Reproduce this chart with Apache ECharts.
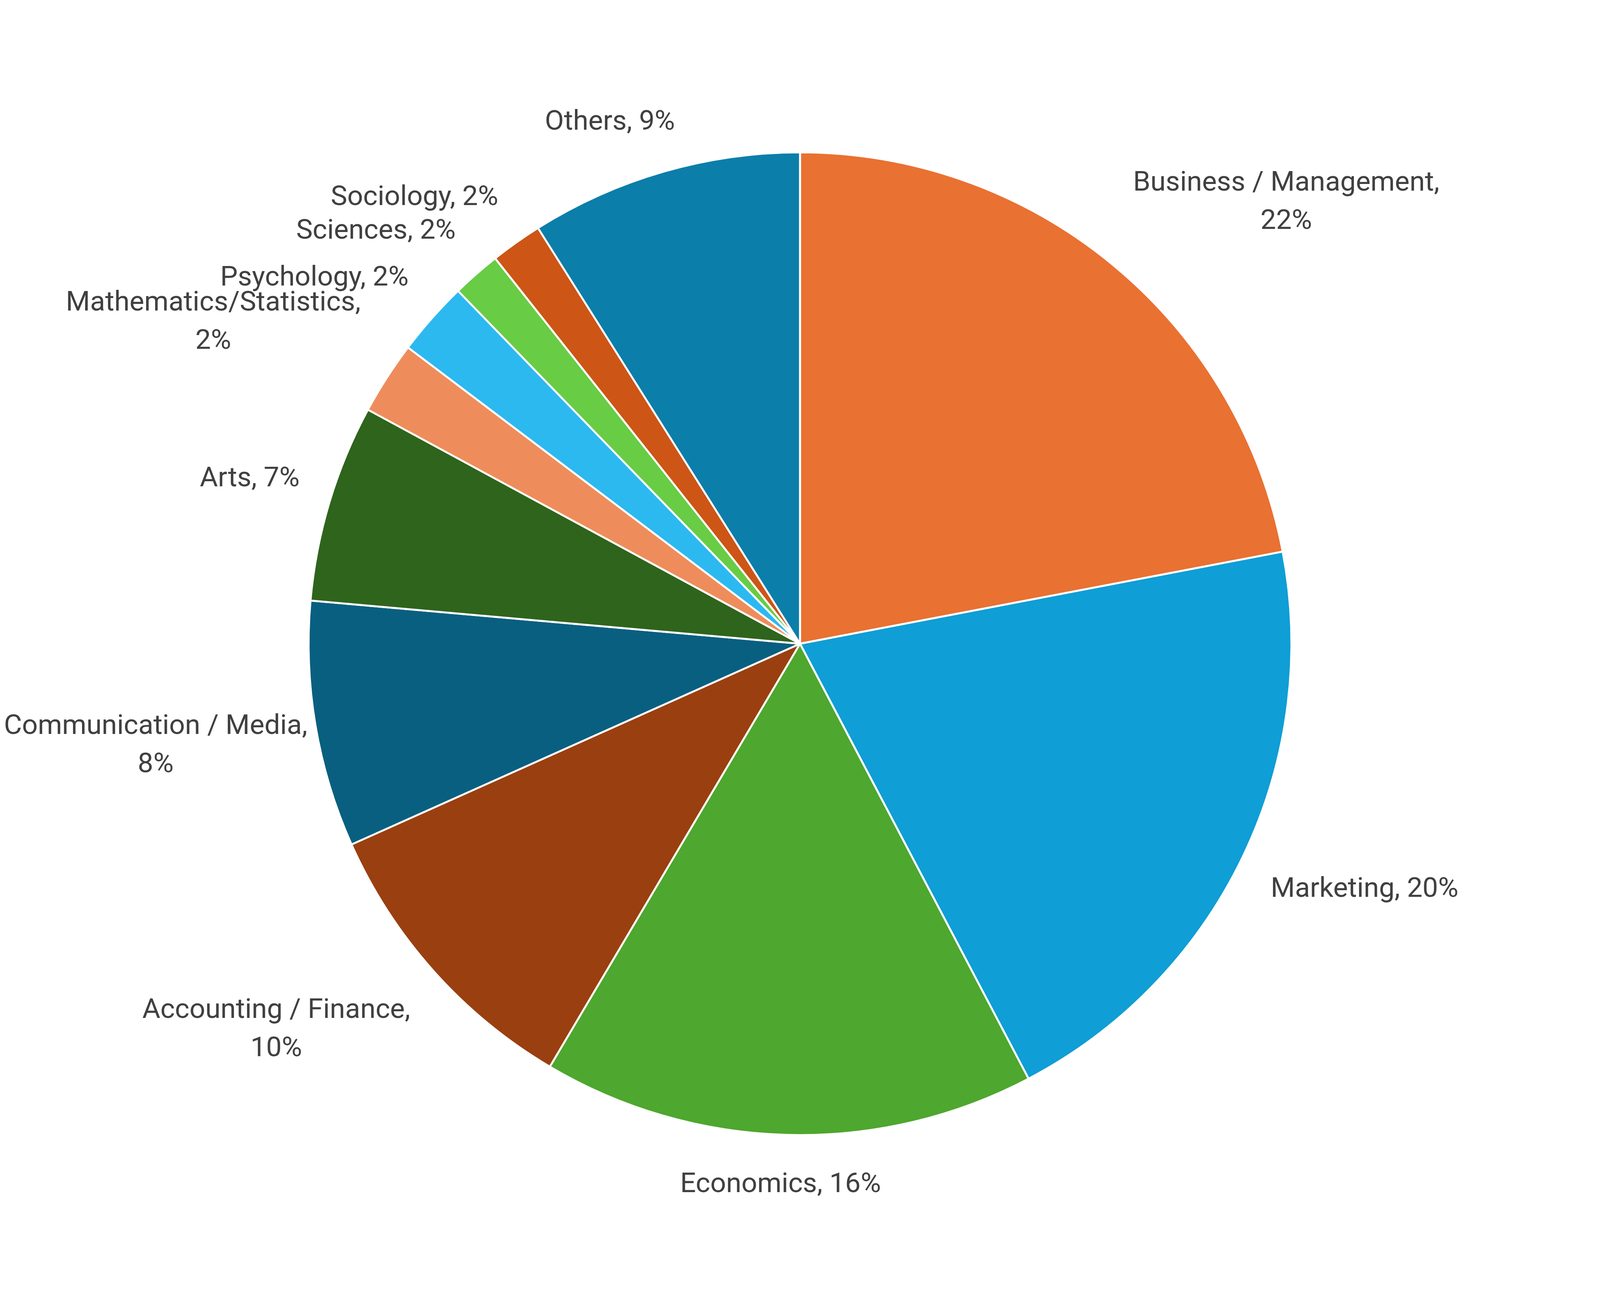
<!DOCTYPE html>
<html>
<head>
<meta charset="utf-8">
<script src="https://cdn.jsdelivr.net/npm/echarts@6/dist/echarts.min.js"></script>
<style>
  html, body { margin: 0; padding: 0; background: #ffffff; overflow: hidden; }
  #chart { width: 100vw; height: 100vh; }
</style>
</head>
<body>
<div id="chart"></div>
<script>
// slices, clockwise from 12 o'clock
var subjects = ['Business / Management', 'Marketing', 'Economics', 'Accounting / Finance',
  'Communication / Media', 'Arts', 'Mathematics/Statistics', 'Psychology', 'Sciences',
  'Sociology', 'Others'];
var shares = [22.0, 20.3, 16.2, 9.8, 8.1, 6.5, 2.4, 2.45, 1.6, 1.7, 8.95];
var colors = ['#E97132', '#0F9ED5', '#4EA72E', '#9A3F10', '#095F80', '#2F641C',
  '#EE8D5B', '#2CB9F0', '#68CC45', '#CD5516', '#0C7EAA'];

var chart = echarts.init(document.getElementById('chart'));

// design was measured on a 4734x3300 sheet; fit it into whatever the window is
var W = chart.getWidth(), H = chart.getHeight();
var sx = W / 4734, sy = H / 3300;
var lo = Math.min(sx, sy), hi = Math.max(sx, sy);
var rs = lo + 0.3 * (hi - lo);
var CX = 2367 * sx, CY = 1648 * sy;
var R = 1389 * rs, GAP = 88 * rs;
var FS = Math.round(82 * lo), LH = Math.round(113 * lo);

var total = shares.reduce(function (a, b) { return a + b; }, 0);
// mid angle of each slice (deg, clockwise from top)
var midAngles = [];
var acc = 0;
shares.forEach(function (v) {
  midAngles.push((acc + v / 2) / total * 360);
  acc += v;
});

function clamp(v) { return Math.max(-1, Math.min(1, v)); }

chart.setOption({
  backgroundColor: '#ffffff',
  animation: false,
  series: [{
    type: 'pie',
    center: [CX, CY],
    radius: R,
    startAngle: 90,
    clockwise: true,
    avoidLabelOverlap: false,
    itemStyle: { borderColor: '#ffffff', borderWidth: 5 },
    label: {
      show: true,
      position: 'outside',
      fontFamily: 'Roboto',
      fontSize: FS,
      lineHeight: LH,
      color: '#404040',
      formatter: function (p) {
        var pct = Math.round(p.value / total * 100) + '%';
        // long names wrap onto two lines like the original
        return p.name.length > 18 ? p.name + ',\n' + pct : p.name + ', ' + pct;
      }
    },
    labelLine: { show: false },
    labelLayout: function (params) {
      var th = midAngles[params.dataIndex] * Math.PI / 180;
      var ux = Math.sin(th), uy = -Math.cos(th);
      var w = params.labelRect.width, h = params.labelRect.height;
      var ax = CX + (R + GAP) * ux, ay = CY + (R + GAP) * uy;
      var x = ax + clamp(ux * 2.5) * w / 2;
      var y = ay + clamp(uy * 2.5) * h / 2;
      // keep the text on the canvas
      x = Math.max(10 + w / 2, Math.min(W - 10 - w / 2, x));
      return { x: x, y: y, align: 'center', verticalAlign: 'middle' };
    },
    data: subjects.map(function (s, i) {
      return { name: s, value: shares[i], itemStyle: { color: colors[i] } };
    })
  }]
});
</script>
</body>
</html>
